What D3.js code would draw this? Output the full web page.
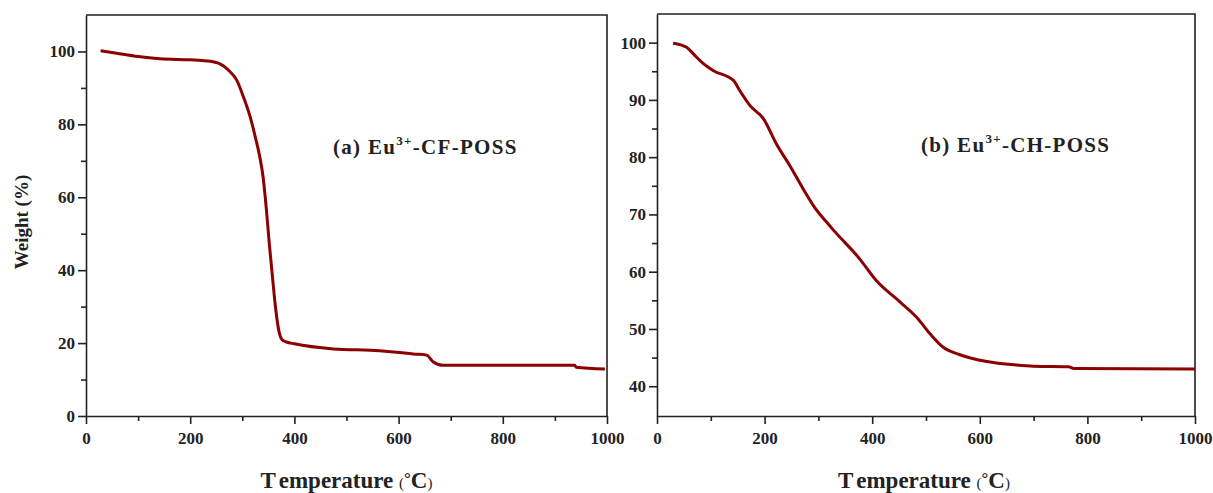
<!DOCTYPE html>
<html>
<head>
<meta charset="utf-8">
<script src="https://cdn.jsdelivr.net/npm/d3@7"></script>
<style>
  html, body { margin: 0; padding: 0; background: #fff; }
  svg { display: block; }
  text { font-family: "Liberation Serif", "Times New Roman", serif; fill: #222; }
</style>
</head>
<body>
<svg id="chart" width="1213" height="493"></svg>
<script>
// TGA curves: temperature (°C) vs. residual weight (%)
const cfTemp   = [28, 59, 100, 142, 200, 232, 257, 276, 289, 302, 315, 325, 333, 340, 346, 352, 358, 364, 370, 376, 385, 400, 475, 564, 596, 628, 654, 666, 686, 938, 941, 996];
const cfWeight = [100.2, 99.5, 98.6, 98.0, 97.7, 97.4, 96.6, 94.5, 92.2, 87.6, 82.1, 76.5, 71.5, 65.5, 57.0, 47.0, 38.0, 29.5, 23.5, 21.0, 20.3, 19.8, 18.4, 17.9, 17.5, 17.0, 16.7, 14.9, 13.9, 13.9, 13.4, 12.9];

const chTemp   = [30, 55, 68, 83, 105, 142, 154, 173, 198, 222, 247, 272, 291, 324, 377, 408, 452, 483, 508, 532, 563, 613, 668, 700, 765, 775, 1000];
const chWeight = [99.9, 99.2, 98.0, 96.6, 95.1, 93.4, 91.6, 89.0, 86.7, 82.3, 78.5, 74.4, 71.5, 67.7, 62.2, 58.4, 54.7, 52.0, 49.1, 46.8, 45.5, 44.3, 43.7, 43.5, 43.4, 43.1, 43.0];

const xTicks      = [0, 200, 400, 600, 800, 1000];
const xMinorTicks = [100, 300, 500, 700, 900];
const yTicksA      = [0, 20, 40, 60, 80, 100];
const yMinorTicksA = [10, 30, 50, 70, 90];
const yTicksB      = [40, 50, 60, 70, 80, 90, 100];
const yMinorTicksB = [45, 55, 65, 75, 85, 95];

const xDomain  = [0, 1000];
const yDomainA = [0, 110];
const yDomainB = [34.8, 105];

const svg = d3.select("#chart");
const lineColor = "#8b0000";
const fmt = d3.format("d");

function drawPanel(cfg) {
  const g = svg.append("g");
  const x = d3.scaleLinear().domain(xDomain).range([cfg.left, cfg.right]);
  const y = d3.scaleLinear().domain(cfg.yDomain).range([cfg.bottom, cfg.top]);

  // frame: top and right edges
  g.append("path")
    .attr("d", `M${cfg.left},${cfg.top}H${cfg.right}V${cfg.bottom}`)
    .attr("fill", "none").attr("stroke", "#222").attr("stroke-width", 1.6);

  // minor ticks
  g.append("g").attr("transform", `translate(0,${cfg.bottom})`)
    .call(d3.axisBottom(x).tickValues(xMinorTicks).tickSize(5).tickFormat(""))
    .call(a => a.select(".domain").remove());
  g.append("g").attr("transform", `translate(${cfg.left},0)`)
    .call(d3.axisLeft(y).tickValues(cfg.yMinor).tickSize(5).tickFormat(""))
    .call(a => a.select(".domain").remove());

  // major axes
  const xa = g.append("g").attr("transform", `translate(0,${cfg.bottom})`)
    .call(d3.axisBottom(x).tickValues(xTicks).tickFormat(fmt).tickSize(8).tickSizeOuter(0).tickPadding(8));
  const ya = g.append("g").attr("transform", `translate(${cfg.left},0)`)
    .call(d3.axisLeft(y).tickValues(cfg.yTicks).tickFormat(fmt).tickSize(8).tickSizeOuter(0).tickPadding(3));

  g.selectAll(".tick line").attr("stroke", "#222").attr("stroke-width", 1.6);
  g.selectAll(".domain").attr("stroke", "#222").attr("stroke-width", 1.6);
  [xa, ya].forEach(a => a.selectAll(".tick text")
    .attr("font-family", "Liberation Serif").attr("font-weight", "bold")
    .attr("font-size", 17).attr("fill", "#222"));

  // data curve
  const line = d3.line().x(d => x(d[0])).y(d => y(d[1])).curve(d3.curveMonotoneX);
  g.append("path")
    .datum(d3.zip(cfg.temp, cfg.weight))
    .attr("d", line)
    .attr("fill", "none")
    .attr("stroke", lineColor)
    .attr("stroke-width", 3)
    .attr("stroke-linejoin", "round");

  // x-axis title
  const t = g.append("text")
    .attr("x", (cfg.left + cfg.right) / 2 + cfg.titleDx)
    .attr("y", cfg.bottom + 72)
    .attr("text-anchor", "middle")
    .attr("font-weight", "bold")
    .attr("font-size", 23);
  t.append("tspan").text("T");
  t.append("tspan").text("emperature ").attr("dx", 5);
  t.append("tspan").text("(").attr("font-size", 15).attr("font-weight", "normal");
  t.append("tspan").text("°").attr("font-size", 17).attr("dy", -4);
  t.append("tspan").text("C").attr("dy", 4);
  t.append("tspan").text(")").attr("font-size", 15).attr("font-weight", "normal");

  // sample label
  const lab = g.append("text")
    .attr("x", cfg.labelX).attr("y", cfg.labelY)
    .attr("font-weight", "bold").attr("font-size", 21)
    .attr("letter-spacing", 1.3);
  lab.append("tspan").text(cfg.labelPre);
  lab.append("tspan").text("3+").attr("font-size", 13).attr("dy", -9);
  lab.append("tspan").text(cfg.labelPost).attr("dy", 9);

  return g;
}

drawPanel({
  left: 86, right: 607, top: 15, bottom: 416,
  yDomain: yDomainA, yTicks: yTicksA, yMinor: yMinorTicksA,
  temp: cfTemp, weight: cfWeight,
  titleDx: 0,
  labelX: 333, labelY: 154, labelPre: "(a) Eu", labelPost: "-CF-POSS"
});

drawPanel({
  left: 657, right: 1195, top: 14, bottom: 416,
  yDomain: yDomainB, yTicks: yTicksB, yMinor: yMinorTicksB,
  temp: chTemp, weight: chWeight,
  titleDx: -2,
  labelX: 921, labelY: 152, labelPre: "(b) Eu", labelPost: "-CH-POSS"
});

// y-axis title (left panel only)
svg.append("text")
  .attr("transform", "translate(28,222) rotate(-90)")
  .attr("text-anchor", "middle")
  .attr("font-weight", "bold")
  .attr("font-size", 19)
  .text("Weight (%)");
</script>
</body>
</html>
